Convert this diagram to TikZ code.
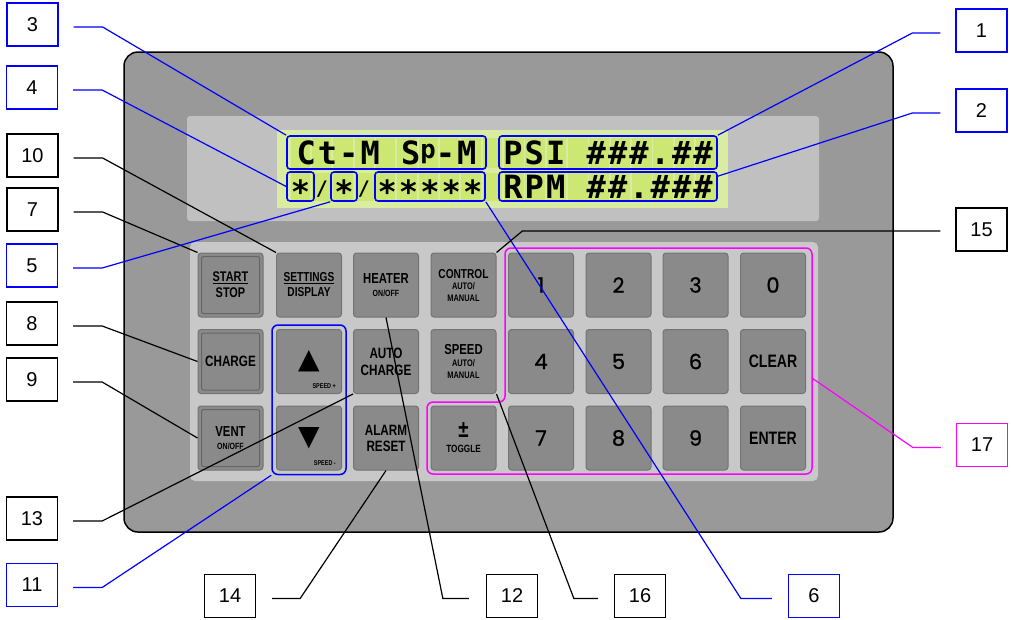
\documentclass[tikz,border=0pt]{standalone}
\usepackage{fontspec}
\setmainfont{Liberation Sans}
\newfontfamily\keyfont[FakeStretch=0.78]{Liberation Sans}
\newfontfamily\lcdfont[LetterSpace=6.5]{DejaVu Sans Mono}
\newfontfamily\numfont[FakeBold=1]{Poppins}
\newfontfamily\symfont{DejaVu Sans}
\usetikzlibrary{fit}
\newcommand\fs[2]{\fontsize{#1}{#2}\selectfont}
\newcommand\lcdp{\scalebox{0.8}{\raisebox{0.21em}{p}}}
\newcommand\lcdstar[1]{\raisebox{-0.15em}{#1}}
\definecolor{panelgray}{RGB}{153,153,153}
\definecolor{windowgray}{RGB}{192,192,192}
\definecolor{padgray}{RGB}{200,200,200}
\definecolor{keygray}{RGB}{138,138,138}
\definecolor{lcdbg}{RGB}{218,235,162}
\definecolor{lcdcell}{RGB}{205,231,115}
\definecolor{callblue}{RGB}{0,0,255}
\definecolor{callmag}{RGB}{255,0,255}
\begin{document}
\begin{tikzpicture}[x=1pt,y=-1pt,
  lbl/.style={draw,fill=white,line width=1.3pt,minimum width=51pt,minimum height=43pt,inner sep=0pt,font=\fs{20}{24}},
  bluelbl/.style={lbl,draw=callblue},
  maglbl/.style={lbl,draw=callmag},
  key/.style={draw=black!55,fill=keygray,rounded corners=3pt,line width=1pt,minimum width=65pt,minimum height=64pt,inner sep=0pt,align=center,font=\keyfont\bfseries},
  numkey/.style={key,font=\numfont\fs{21}{24}},
  bigkey/.style={key,font=\keyfont\bfseries\fs{18}{20}},
  keyframe/.style={draw=black!60,line width=1pt,rounded corners=2pt},
  lcdbox/.style={draw=callblue,line width=1.6pt,rounded corners=3pt,inner sep=0pt,font=\lcdfont\bfseries\fs{32}{32},text height=23.5pt,text depth=0pt},
  grp/.style={draw=callblue,line width=1.5pt,rounded corners=6pt,inner sep=4pt},
  tag/.style={font=\keyfont\bfseries\fs{7}{8},inner sep=0pt},
  lead/.style={line width=1.2pt},
]
\useasboundingbox (0,0) rectangle (1011,619);

\draw[line width=1.5pt,fill=panelgray,rounded corners=14pt] (124,52) rectangle (893,532);
\fill[windowgray,rounded corners=3pt] (187,116) rectangle (819,221);
\fill[lcdbg] (277,130) rectangle (728,208);
\foreach \i in {0,...,19} {
  \fill[lcdcell] (290.5+21.35*\i,138) rectangle ++(19.5,30);
  \fill[lcdcell] (290.5+21.35*\i,173) rectangle ++(19.5,28);
}
\fill[padgray,rounded corners=5pt] (190,242) rectangle (818,481);

\node[lcdbox,minimum width=199pt,minimum height=33pt] (ctm) at (386.5,152.5) {Ct-M S\lcdp-M};
\node[lcdbox,minimum width=218pt,minimum height=33pt] (psi) at (608,152.5) {PSI \#\#\#.\#\#};
\node[lcdbox,minimum width=27pt,minimum height=29pt] (star1) at (300.5,186.5) {\lcdstar{*}};
\node[lcdbox,minimum width=26pt,minimum height=29pt] (star2) at (344,186.5) {\lcdstar{*}};
\node[lcdbox,minimum width=110pt,minimum height=29pt] (stars) at (430,186.5) {\lcdstar{*****}};
\node[lcdbox,minimum width=218pt,minimum height=29pt] (rpm) at (608,186.5) {RPM \#\#.\#\#\#};
\node[font=\lcdfont\bfseries\fs{20}{20},inner sep=0pt] (sl1) at (322,189) {/};
\node[font=\lcdfont\bfseries\fs{20}{20},inner sep=0pt] (sl2) at (364,189) {/};

\node[key,font=\keyfont\bfseries\fs{14}{16}] (start) at (230.5,285) {\underline{START}\\STOP};
\node[key,font=\keyfont\bfseries\fs{13}{15}] (settings) at (309,285) {\underline{SETTINGS}\\DISPLAY};
\node[key,font=\keyfont\bfseries\fs{14.5}{13}] (heater) at (386,285) {HEATER\\{\fs{9}{11}ON/OFF}};
\node[key,font=\keyfont\bfseries\fs{9.5}{11.5}] (control) at (463.5,285) {{\fs{13}{13}CONTROL}\\AUTO/\\MANUAL};
\node[numkey] (k1) at (541,285) {1};
\node[numkey] (k2) at (618.5,285) {2};
\node[numkey] (k3) at (695.5,285) {3};
\node[numkey] (k0) at (773,285) {0};

\node[key,font=\keyfont\bfseries\fs{15}{17}] (charge) at (230.5,361.5) {CHARGE};
\node[key] (up) at (309,361.5) {{\symfont\fs{28}{28}▲}};
\node[key,font=\keyfont\bfseries\fs{15}{17}] (autocharge) at (386,361.5) {AUTO\\CHARGE};
\node[key,font=\keyfont\bfseries\fs{9.5}{12}] (speed) at (463.5,361.5) {{\fs{14.5}{14}SPEED}\\AUTO/\\MANUAL};
\node[numkey] (k4) at (541,361.5) {4};
\node[numkey] (k5) at (618.5,361.5) {5};
\node[numkey] (k6) at (695.5,361.5) {6};
\node[bigkey] (clear) at (773,361.5) {CLEAR};

\node[key,font=\keyfont\bfseries\fs{14.5}{13}] (vent) at (230.5,438) {VENT\\{\fs{9}{11}ON/OFF}};
\node[key] (down) at (309,438) {{\symfont\fs{28}{28}▼}};
\node[key,font=\keyfont\bfseries\fs{15}{16}] (alarm) at (386,438) {ALARM\\RESET};
\node[key,font=\keyfont\bfseries\fs{10.5}{12}] (toggle) at (463.5,438) {{\fs{24}{22}±}\\[3pt]TOGGLE};
\node[numkey] (k7) at (541,438) {7};
\node[numkey] (k8) at (618.5,438) {8};
\node[numkey] (k9) at (695.5,438) {9};
\node[bigkey] (enter) at (773,438) {ENTER};

\foreach \k in {start,charge,vent}
  \draw[keyframe] ([shift={(4pt,-4pt)}]\k.north west) rectangle ([shift={(-4pt,4pt)}]\k.south east);
\node[tag,anchor=south east] (spdup) at ([shift={(-6pt,5pt)}]up.south east) {SPEED +};
\node[tag,anchor=south east] (spddn) at ([shift={(-6pt,5pt)}]down.south east) {SPEED -};

\node[grp,fit=(up)(down)] (updown) {};
\draw[callmag,line width=1.5pt,rounded corners=6pt] (505,248) -- (812,248) -- (812,474) -- (427,474) -- (427,402) -- (505,402) -- cycle;
\coordinate (padedge) at (812,378);

\node[bluelbl] (n3) at (32.5,24.5) {3};
\node[bluelbl] (n4) at (32,87.5) {4};
\node[lbl] (n10) at (32.5,155.5) {10};
\node[lbl] (n7) at (32.5,209.5) {7};
\node[bluelbl] (n5) at (32,265.5) {5};
\node[lbl] (n8) at (32,323.5) {8};
\node[lbl] (n9) at (32,379.5) {9};
\node[lbl] (n13) at (32,518.5) {13};
\node[bluelbl] (n11) at (32,585) {11};
\node[lbl] (n14) at (230,596) {14};
\node[lbl] (n12) at (512,596) {12};
\node[lbl] (n16) at (640,596) {16};
\node[bluelbl] (n6) at (814,596) {6};
\node[bluelbl] (n1) at (981.5,30.5) {1};
\node[bluelbl] (n2) at (981.5,110.5) {2};
\node[lbl] (n15) at (981.5,229.5) {15};
\node[maglbl] (n17) at (982,445) {17};

\draw[lead,callblue] ([shift={(15pt,-2.5pt)}]n3.east) -- ++(29,0) -- (ctm.north west);
\draw[lead,callblue] ([shift={(15pt,-2.5pt)}]n4.east) -- ++(29,0) -- (star1.west);
\draw[lead] ([shift={(15pt,-2.5pt)}]n10.east) -- ++(29,0) -- (settings.north west);
\draw[lead] ([shift={(15pt,-2.5pt)}]n7.east) -- ++(29,0) -- (start.north west);
\draw[lead,callblue] ([shift={(15pt,-2.5pt)}]n5.east) -- ++(29,0) -- (star2.south west);
\draw[lead] ([shift={(15pt,-2.5pt)}]n8.east) -- ++(29,0) -- (charge.west);
\draw[lead] ([shift={(15pt,-2.5pt)}]n9.east) -- ++(29,0) -- (vent.west);
\draw[lead] ([shift={(15pt,-2.5pt)}]n13.east) -- ++(29,0) -- (autocharge.south west);
\draw[lead,callblue] ([shift={(15pt,-2.5pt)}]n11.east) -- ++(29,0) -- (updown.south west);
\draw[lead] ([shift={(16pt,-2.5pt)}]n14.east) -- ++(28,0) -- (alarm.south);
\draw[lead] ([shift={(-17pt,-2.5pt)}]n12.west) -- ++(-26,0) -- (heater.south);
\draw[lead] ([shift={(-16pt,-2.5pt)}]n16.west) -- ++(-24,0) -- (speed.south east);
\draw[lead,callblue] ([shift={(-16pt,-2.5pt)}]n6.west) -- ++(-31,0) -- (stars.south east);
\draw[lead,callblue] ([shift={(-15pt,-2.5pt)}]n1.west) -- ++(-28,0) -- (psi.north east);
\draw[lead,callblue] ([shift={(-15pt,-2.5pt)}]n2.west) -- ++(-28,0) -- ([yshift=-5pt]rpm.north east);
\draw[lead] ([shift={(-15pt,-1.5pt)}]n15.west) -- ++(-418,0) -- (control.north east);
\draw[lead,callmag] ([shift={(-15pt,-2.5pt)}]n17.west) -- ++(-28,0) -- (padedge);
\end{tikzpicture}
\end{document}
